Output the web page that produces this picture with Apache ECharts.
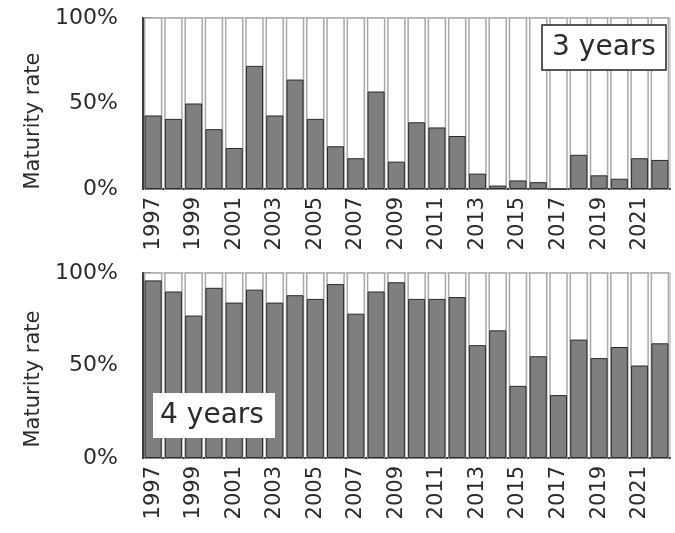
<!DOCTYPE html>
<html>
<head>
<meta charset="utf-8">
<script src="https://cdn.jsdelivr.net/npm/echarts@6/dist/echarts.min.js"></script>
<style>
  html, body { margin: 0; padding: 0; background: #fff; }
  #chart { width: 675px; height: 533px; }
</style>
</head>
<body>
<div id="chart"></div>
<script>
// Fiscal years shown on both panels
const years = ['1997','1998','1999','2000','2001','2002','2003','2004','2005','2006','2007','2008','2009',
               '2010','2011','2012','2013','2014','2015','2016','2017','2018','2019','2020','2021','2022'];

// Maturity rate (%) after 3 years
const rate3Years = [43, 41, 50, 35, 24, 72, 43, 64, 41, 25, 18, 57, 16,
                    39, 36, 31, 9, 2, 5, 4, 0, 20, 8, 6, 18, 17];

// Maturity rate (%) after 4 years
const rate4Years = [96, 90, 77, 92, 84, 91, 84, 88, 86, 94, 78, 90, 95,
                    86, 86, 87, 61, 69, 39, 55, 34, 64, 54, 60, 50, 62];

const FONT = 'DejaVu Sans';
const TEXT = '#2b2b2b';

const chart = echarts.init(document.getElementById('chart'), null, { renderer: 'canvas' });

function makeX(gridIndex) {
  return {
    type: 'category',
    gridIndex: gridIndex,
    data: years,
    axisLine: { show: true, lineStyle: { color: '#333', width: 2 } },
    axisTick: { show: false },
    axisLabel: {
      rotate: 90,
      interval: 1,
      margin: 8,
      color: TEXT,
      fontFamily: FONT,
      fontSize: 21
    },
    splitLine: { show: false }
  };
}

function makeY(gridIndex) {
  return {
    type: 'value',
    gridIndex: gridIndex,
    min: 0,
    max: 100,
    interval: 50,
    axisLine: { show: true, lineStyle: { color: '#333', width: 2 } },
    axisTick: { show: true, inside: true, length: 8, lineStyle: { color: '#333', width: 1.5 } },
    axisLabel: {
      margin: 25,
      color: TEXT,
      fontFamily: FONT,
      fontSize: 22,
      formatter: '{value}%'
    },
    splitLine: { show: false }
  };
}

function makeBars(data, idx) {
  return {
    type: 'bar',
    xAxisIndex: idx,
    yAxisIndex: idx,
    data: data,
    barWidth: '84%',
    showBackground: true,
    backgroundStyle: { color: '#ffffff', borderColor: '#a9a9a9', borderWidth: 1.5 },
    itemStyle: { color: '#7f7f7f', borderColor: '#2a2a2a', borderWidth: 1 },
    silent: true,
    animation: false
  };
}

const option = {
  backgroundColor: '#ffffff',
  animation: false,
  grid: [
    { left: 143, top: 18, width: 527, height: 171, show: true, borderColor: '#aaaaaa', borderWidth: 1 },
    { left: 143, top: 273, width: 527, height: 185, show: true, borderColor: '#aaaaaa', borderWidth: 1 }
  ],
  xAxis: [makeX(0), makeX(1)],
  yAxis: [makeY(0), makeY(1)],
  series: [makeBars(rate3Years, 0), makeBars(rate4Years, 1)],
  graphic: [
    // vertical axis titles
    {
      type: 'text', x: 34, y: 121, rotation: Math.PI / 2, z: 10,
      style: { text: 'Maturity rate', fill: TEXT, font: '21px "DejaVu Sans"', align: 'center', verticalAlign: 'middle' }
    },
    {
      type: 'text', x: 34, y: 379, rotation: Math.PI / 2, z: 10,
      style: { text: 'Maturity rate', fill: TEXT, font: '21px "DejaVu Sans"', align: 'center', verticalAlign: 'middle' }
    },
    // panel tags
    {
      type: 'rect', z: 10,
      shape: { x: 542, y: 25, width: 124, height: 45 },
      style: { fill: '#fff', stroke: '#222', lineWidth: 1.5 }
    },
    {
      type: 'text', x: 604, y: 48, z: 11,
      style: { text: '3 years', fill: TEXT, font: '28px "DejaVu Sans"', align: 'center', verticalAlign: 'middle' }
    },
    {
      type: 'rect', z: 10,
      shape: { x: 153, y: 393, width: 122, height: 45 },
      style: { fill: '#fff', stroke: null }
    },
    {
      type: 'text', x: 212, y: 416, z: 11,
      style: { text: '4 years', fill: TEXT, font: '28px "DejaVu Sans"', align: 'center', verticalAlign: 'middle' }
    }
  ]
};

chart.setOption(option);
</script>
</body>
</html>
